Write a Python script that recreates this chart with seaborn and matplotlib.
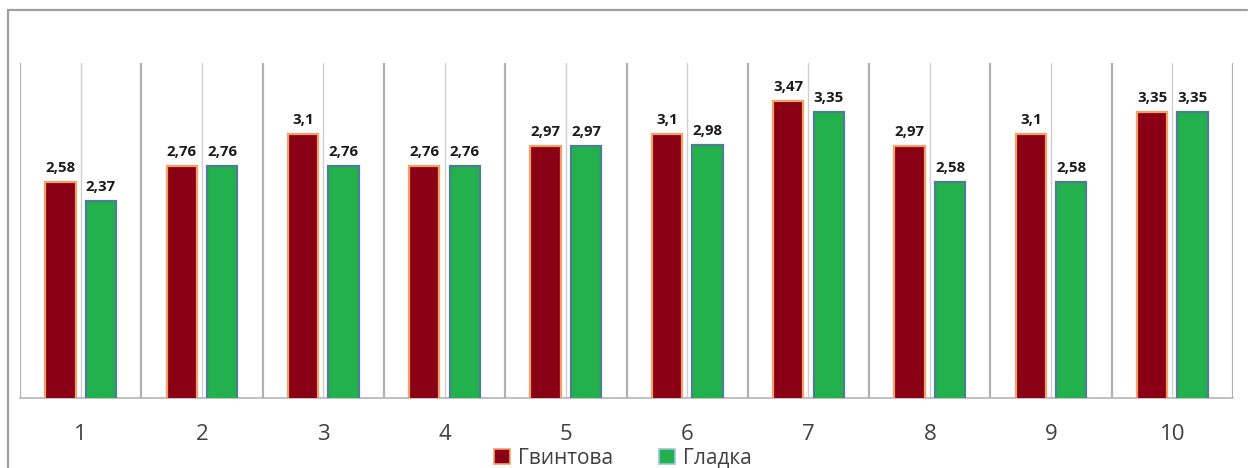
import matplotlib
matplotlib.use("Agg")
import matplotlib.pyplot as plt
import seaborn as sns
import pandas as pd
from matplotlib.lines import Line2D

categories = ["1", "2", "3", "4", "5", "6", "7", "8", "9", "10"]
series_names = ["Гвинтова", "Гладка"]
gvyntova = [2.58, 2.76, 3.1, 2.76, 2.97, 3.1, 3.47, 2.97, 3.1, 3.35]
gladka = [2.37, 2.76, 2.76, 2.76, 2.97, 2.98, 3.35, 2.58, 2.58, 3.35]

df = pd.DataFrame({
    "cat": categories * 2,
    "series": [series_names[0]] * len(categories) + [series_names[1]] * len(categories),
    "value": gvyntova + gladka,
})

sns.set_style("white")
plt.rcParams["font.family"] = ["Open Sans", "DejaVu Sans"]

fill_colors = {"Гвинтова": "#8A0014", "Гладка": "#22B14C"}
edge_colors = {"Гвинтова": "#F2A06A", "Гладка": "#4C7F92"}

fig = plt.figure(figsize=(12.52, 4.68), dpi=100)
W, H = 1252, 468
ax = fig.add_axes([20 / W, 1 - 398 / H, (1233 - 20) / W, (398 - 63) / H])

sns.barplot(data=df, x="cat", y="value", hue="series", order=categories,
            hue_order=series_names, palette=fill_colors, width=0.668, gap=0.25,
            saturation=1, ax=ax, legend=False, zorder=3)

for cont, name in zip(ax.containers, series_names):
    for p in cont.patches:
        p.set_edgecolor(edge_colors[name])
        p.set_linewidth(1.6)
    labels = [f"{v:g}".replace(".", ",") for v in cont.datavalues]
    ax.bar_label(cont, labels=labels, padding=5, fontsize=10.8, fontweight="bold",
                 color="#1a1a1a")

ax.set_ylim(0.22, 3.88)
ax.set_xlim(-0.5, len(categories) - 0.5)
ax.set_xlabel("")
ax.set_ylabel("")
ax.set_yticks([])

ax.set_xticks(range(len(categories)))
ax.set_xticklabels(categories, fontsize=16, color="#404040")
ax.set_xticks([i - 0.5 for i in range(len(categories) + 1)], minor=True)
ax.grid(False)
ax.grid(True, axis="x", which="major", color="#cfcfcf", linewidth=1.0, zorder=0)
ax.grid(True, axis="x", which="minor", color="#b0b0b0", linewidth=1.6, zorder=0)
ax.set_axisbelow(True)
ax.tick_params(axis="x", which="major", length=7, width=1.0, color="#b5b5b5", pad=12)
ax.tick_params(axis="x", which="minor", length=10, width=1.5, color="#a8a8a8")

for s in ["top", "left", "right"]:
    ax.spines[s].set_visible(False)
ax.spines["bottom"].set_color("#b5b5b5")
ax.spines["bottom"].set_linewidth(1.2)

# outer frame
fig.add_artist(Line2D([8 / W, 1247 / W], [1 - 10 / H, 1 - 10 / H],
                      transform=fig.transFigure, color="#a0a0a0", lw=1.6))
fig.add_artist(Line2D([8 / W, 8 / W], [1 - 10 / H, 0], transform=fig.transFigure,
                      color="#a0a0a0", lw=1.6))

handles = [
    plt.Rectangle((0, 0), 1, 1, facecolor=fill_colors[n],
                  edgecolor=edge_colors[n] if n == "Гвинтова" else "#9cc3e0", linewidth=1.2)
    for n in series_names
]
fig.legend(handles, series_names, loc="center", bbox_to_anchor=(623 / W, 1 - 458 / H),
           ncol=2, frameon=False, fontsize=15, handlelength=0.75, handleheight=0.75,
           handletextpad=0.4, columnspacing=2.2, labelcolor="#404040", borderpad=0)

fig.savefig("out.png", dpi=100)
